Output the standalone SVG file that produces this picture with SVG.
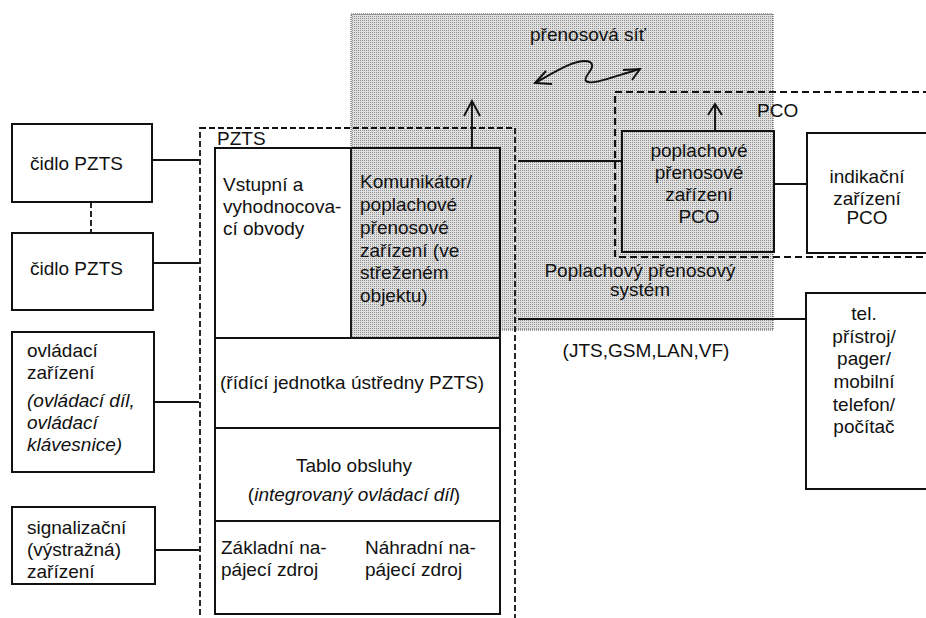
<svg xmlns="http://www.w3.org/2000/svg" width="926" height="618" viewBox="0 0 926 618">
<style>
text{font-family:"Liberation Sans",Arial,sans-serif;font-size:19px;fill:#111}
.box{fill:#fff;stroke:#111;stroke-width:2}
.gbox{fill:url(#dots);stroke:#111;stroke-width:2}
.ln{stroke:#111;stroke-width:1.9;fill:none}
.dash{fill:none;stroke:#111;stroke-width:1.8;stroke-dasharray:6 3}
.dashb{fill:none;stroke:#111;stroke-width:2.2;stroke-dasharray:7 4}
.mid{text-anchor:middle}
.it{font-style:italic}
</style>
<defs>
<pattern id="dots" width="2" height="2" patternUnits="userSpaceOnUse">
<rect width="2" height="2" fill="#e0e0e0"/>
<rect width="1" height="1" fill="#909090"/>
</pattern>
</defs>

<g id="prenosovy-system">
<rect x="351" y="14" width="422" height="316" fill="url(#dots)" stroke="#444" stroke-width="1" stroke-dasharray="1 1"/>
<text x="588" y="41" class="mid">přenosová síť</text>
<text x="640" y="277" class="mid">Poplachový přenosový</text>
<text x="640" y="296" class="mid">systém</text>
</g>

<g id="pzts-hranice">
<rect x="200" y="128" width="315" height="500" class="dash"/>
<text x="217" y="145">PZTS</text>
</g>

<g id="pzts-ustredna">
<rect x="215" y="148" width="136" height="190" fill="#fff"/>
<rect x="351" y="148" width="149" height="190" fill="url(#dots)"/>
<rect x="215" y="338" width="285" height="276" fill="#fff"/>
<rect x="215" y="148" width="285" height="466" fill="none" stroke="#111" stroke-width="2"/>
<line x1="351" y1="148" x2="351" y2="338" class="ln"/>
<line x1="215" y1="338" x2="500" y2="338" class="ln"/>
<line x1="215" y1="428" x2="500" y2="428" class="ln"/>
<line x1="215" y1="521" x2="500" y2="521" class="ln"/>
<text x="223" y="191">Vstupní a</text>
<text x="223" y="213">vyhodnocova-</text>
<text x="223" y="235">cí obvody</text>
<text x="360" y="188">Komunikátor/</text>
<text x="360" y="211">poplachové</text>
<text x="360" y="234">přenosové</text>
<text x="360" y="257">zařízení (ve</text>
<text x="360" y="279">střeženém</text>
<text x="360" y="302">objektu)</text>
<text x="220" y="389">(řídící jednotka ústředny PZTS)</text>
<text x="354" y="472" class="mid">Tablo obsluhy</text>
<text x="354" y="501" class="mid">(<tspan class="it">integrovaný ovládací díl</tspan>)</text>
<text x="221" y="554">Základní na-</text>
<text x="221" y="576">pájecí zdroj</text>
<text x="365" y="554">Náhradní na-</text>
<text x="365" y="576">pájecí zdroj</text>
</g>

<g id="pco-hranice">
<rect x="615" y="92" width="330" height="165" class="dashb"/>
<text x="757" y="117">PCO</text>
</g>

<g id="pco-zarizeni">
<rect x="622" y="131" width="152" height="121" class="gbox"/>
<text x="699" y="157" class="mid">poplachové</text>
<text x="699" y="179" class="mid">přenosové</text>
<text x="699" y="201" class="mid">zařízení</text>
<text x="699" y="223" class="mid">PCO</text>
</g>

<g id="indikacni">
<rect x="807" y="133" width="130" height="120" class="box"/>
<text x="867" y="183" class="mid">indikační</text>
<text x="867" y="205" class="mid">zařízení</text>
<text x="867" y="224" class="mid">PCO</text>
</g>

<g id="telefon">
<rect x="806" y="293" width="130" height="196" class="box"/>
<text x="864" y="320" class="mid">tel.</text>
<text x="864" y="343" class="mid">přístroj/</text>
<text x="864" y="365" class="mid">pager/</text>
<text x="864" y="388" class="mid">mobilní</text>
<text x="864" y="411" class="mid">telefon/</text>
<text x="864" y="433" class="mid">počítač</text>
</g>

<g id="cidlo1">
<rect x="12" y="124" width="140" height="78" class="box"/>
<text x="30" y="170">čidlo PZTS</text>
</g>
<g id="cidlo2">
<rect x="12" y="233" width="141" height="77" class="box"/>
<text x="30" y="275">čidlo PZTS</text>
</g>
<g id="ovladaci">
<rect x="12" y="332" width="142" height="140" class="box"/>
<text x="27" y="357">ovládací</text>
<text x="27" y="379">zařízení</text>
<text x="27" y="407" class="it">(ovládací díl,</text>
<text x="27" y="429" class="it">ovládací</text>
<text x="27" y="451" class="it">klávesnice)</text>
</g>
<g id="signalizacni">
<rect x="12" y="507" width="143" height="77" class="box"/>
<text x="27" y="534">signalizační</text>
<text x="27" y="556">(výstražná)</text>
<text x="27" y="578">zařízení</text>
</g>

<text x="646" y="357" class="mid">(JTS,GSM,LAN,VF)</text>

<g id="konektory">
<line x1="152" y1="160" x2="199" y2="160" class="ln"/>
<line x1="153" y1="263" x2="199" y2="263" class="ln"/>
<line x1="154" y1="402" x2="199" y2="402" class="ln"/>
<line x1="155" y1="550" x2="199" y2="550" class="ln"/>
<line x1="91" y1="202" x2="91" y2="233" class="dash"/>
<line x1="518" y1="161" x2="622" y2="161" class="ln"/>
<line x1="774" y1="184" x2="807" y2="184" class="ln"/>
<line x1="518" y1="319" x2="806" y2="319" class="ln"/>
<line x1="472" y1="148" x2="472" y2="101" class="ln"/>
<polyline points="464,116 472,101 480,116" class="ln"/>
<line x1="715" y1="131" x2="715" y2="105" class="ln"/>
<polyline points="708,115 715,104 722,115" class="ln"/>
<path d="M535,83 C555,72 578,57 590,62 C598,67 582,77 586,81 C591,86 615,76 640,69" class="ln" stroke-width="2.4"/>
<polyline points="546,71 535,83 552,84" class="ln" stroke-width="2.4"/>
<polyline points="623,70 640,69 632,80" class="ln" stroke-width="2.4"/>
</g>
</svg>
